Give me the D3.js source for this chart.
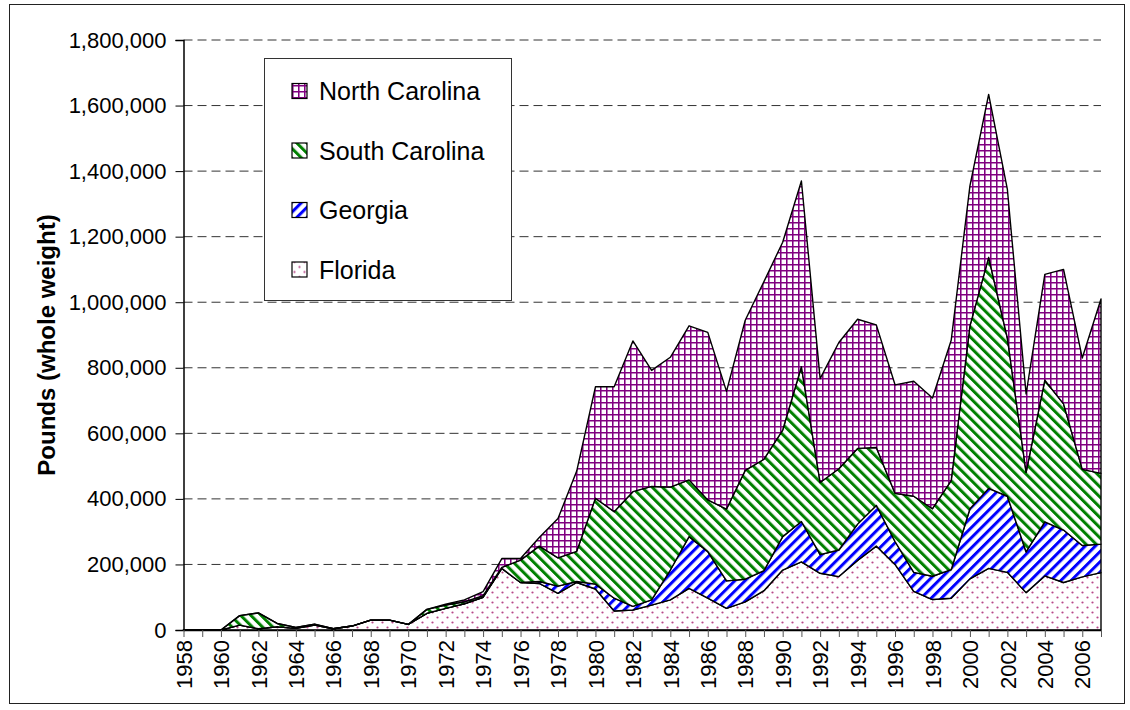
<!DOCTYPE html>
<html>
<head>
<meta charset="utf-8">
<script src="https://cdn.jsdelivr.net/npm/d3@7"></script>
<style>
  body { margin: 0; background: #fff; }
  svg text { font-family: "Liberation Sans", Arial, sans-serif; fill: #000; }
</style>
</head>
<body>
<div id="chart"></div>
<script>
// years on the category axis
var years = [1958, 1959, 1960, 1961, 1962, 1963, 1964, 1965, 1966, 1967,
             1968, 1969, 1970, 1971, 1972, 1973, 1974, 1975, 1976, 1977,
             1978, 1979, 1980, 1981, 1982, 1983, 1984, 1985, 1986, 1987,
             1988, 1989, 1990, 1991, 1992, 1993, 1994, 1995, 1996, 1997,
             1998, 1999, 2000, 2001, 2002, 2003, 2004, 2005, 2006, 2007];

// pounds (whole weight)
var florida = [0, 0, 0, 15000, 4000, 10000, 5000, 15000, 4000, 12000,
               30000, 30000, 17000, 51000, 66000, 80000, 100000, 188000, 145000, 142000,
               112000, 145000, 125000, 58000, 61000, 76000, 92000, 127000, 97000, 66000,
               86000, 120000, 183000, 208000, 173000, 163000, 212000, 256000, 200000, 118000,
               93000, 97000, 156000, 188000, 176000, 114000, 165000, 145000, 162000, 175000];

var georgia = [0, 0, 0, 0, 0, 0, 0, 0, 0, 0,
               0, 0, 0, 0, 0, 0, 0, 0, 0, 6000,
               22000, 3000, 15000, 39000, 11000, 16000, 91000, 158000, 142000, 84000,
               69000, 61000, 102000, 123000, 57000, 81000, 111000, 124000, 70000, 58000,
               71000, 87000, 214000, 244000, 232000, 124000, 165000, 160000, 96000, 87000];

var southCarolina = [0, 0, 0, 29000, 48000, 10000, 3000, 3000, 0, 0,
                     0, 0, 0, 12000, 10000, 6000, 5000, 3000, 68000, 108000,
                     86000, 92000, 262000, 264000, 350000, 346000, 253000, 173000, 158000, 219000,
                     332000, 340000, 325000, 472000, 220000, 248000, 231000, 177000, 147000, 232000,
                     206000, 272000, 558000, 705000, 482000, 243000, 432000, 385000, 232000, 216000];

var northCarolina = [0, 0, 0, 0, 0, 0, 0, 0, 0, 0,
                     0, 0, 0, 0, 3000, 6000, 12000, 27000, 5000, 26000,
                     120000, 245000, 340000, 381000, 460000, 354000, 396000, 470000, 511000, 359000,
                     458000, 542000, 573000, 567000, 317000, 385000, 394000, 374000, 331000, 351000,
                     338000, 428000, 427000, 497000, 454000, 239000, 323000, 410000, 340000, 532000];

var seriesNames = ["Florida", "Georgia", "South Carolina", "North Carolina"];
var yTicks = [0, 200000, 400000, 600000, 800000, 1000000, 1200000, 1400000, 1600000, 1800000];
var xLabels = [1958, 1960, 1962, 1964, 1966, 1968, 1970, 1972, 1974, 1976, 1978, 1980,
               1982, 1984, 1986, 1988, 1990, 1992, 1994, 1996, 1998, 2000, 2002, 2004, 2006];

(function () {
    var width = 1130, height = 710;
    var plotLeft = 183.5, plotRight = 1101, plotTop = 40, plotBottom = 630;

    var svg = d3.select("#chart").append("svg")
        .attr("width", width)
        .attr("height", height);

    svg.append("rect")
        .attr("x", 9.5).attr("y", 4.5)
        .attr("width", 1115).attr("height", 699)
        .attr("fill", "#fff")
        .attr("stroke", "#222")
        .attr("stroke-width", 1);

    // fill patterns, one per state
    var defs = svg.append("defs");

    var pNC = defs.append("pattern").attr("id", "pat-nc")
        .attr("patternUnits", "userSpaceOnUse").attr("width", 6).attr("height", 6);
    pNC.append("rect").attr("width", 6).attr("height", 6).attr("fill", "#fff");
    pNC.append("path").attr("d", "M0,0.75H6M0.75,0V6")
        .attr("stroke", "#800080").attr("stroke-width", 1.6);

    var pSC = defs.append("pattern").attr("id", "pat-sc")
        .attr("patternUnits", "userSpaceOnUse").attr("width", 7.2).attr("height", 7.2)
        .attr("patternTransform", "rotate(-45)");
    pSC.append("rect").attr("width", 7.2).attr("height", 7.2).attr("fill", "#fff");
    pSC.append("rect").attr("width", 3).attr("height", 7.2).attr("fill", "#008000");

    var pGA = defs.append("pattern").attr("id", "pat-ga")
        .attr("patternUnits", "userSpaceOnUse").attr("width", 7.2).attr("height", 7.2)
        .attr("patternTransform", "rotate(45)");
    pGA.append("rect").attr("width", 7.2).attr("height", 7.2).attr("fill", "#fff");
    pGA.append("rect").attr("width", 3).attr("height", 7.2).attr("fill", "#0000ff");

    var pFL = defs.append("pattern").attr("id", "pat-fl")
        .attr("patternUnits", "userSpaceOnUse").attr("width", 10).attr("height", 10);
    pFL.append("rect").attr("width", 10).attr("height", 10).attr("fill", "#fff");
    pFL.append("circle").attr("cx", 2.5).attr("cy", 2.5).attr("r", 1.1).attr("fill", "#b8488a");
    pFL.append("circle").attr("cx", 7.5).attr("cy", 7.5).attr("r", 1.1).attr("fill", "#b8488a");

    var fills = {
        "Florida": "url(#pat-fl)",
        "Georgia": "url(#pat-ga)",
        "South Carolina": "url(#pat-sc)",
        "North Carolina": "url(#pat-nc)"
    };

    var x = d3.scalePoint().domain(years).range([plotLeft, plotRight]);
    var y = d3.scaleLinear().domain([0, 1800000]).range([plotBottom, plotTop]);

    // dashed gridlines
    svg.append("g").selectAll("line")
        .data(yTicks.filter(function (d) { return d > 0; }))
        .enter().append("line")
        .attr("x1", plotLeft).attr("x2", plotRight)
        .attr("y1", function (d) { return y(d); })
        .attr("y2", function (d) { return y(d); })
        .attr("stroke", "#333")
        .attr("stroke-width", 1)
        .attr("stroke-dasharray", "9,5");

    // stacked areas
    var table = years.map(function (yr, i) {
        return {
            year: yr,
            "Florida": florida[i],
            "Georgia": georgia[i],
            "South Carolina": southCarolina[i],
            "North Carolina": northCarolina[i]
        };
    });
    var stacked = d3.stack().keys(seriesNames)(table);

    var area = d3.area()
        .x(function (d) { return x(d.data.year); })
        .y0(function (d) { return y(d[0]); })
        .y1(function (d) { return y(d[1]); });

    svg.append("g").selectAll("path")
        .data(stacked)
        .enter().append("path")
        .attr("d", area)
        .attr("fill", function (d) { return fills[d.key]; })
        .attr("stroke", "#000")
        .attr("stroke-width", 1.4)
        .attr("stroke-linejoin", "round");

    // y axis
    var yAxis = svg.append("g")
        .attr("transform", "translate(" + plotLeft + ",0)")
        .call(d3.axisLeft(y).tickValues(yTicks).tickFormat(d3.format(",")).tickSize(8).tickPadding(9));
    yAxis.select(".domain").attr("stroke", "#000").attr("stroke-width", 1.5);
    yAxis.selectAll(".tick line").attr("stroke", "#000");
    yAxis.selectAll("text").style("font-size", "22px");

    // x axis, ticks every year, labels every other year
    var xAxis = svg.append("g")
        .attr("transform", "translate(0," + plotBottom + ")")
        .call(d3.axisBottom(x).tickSize(7).tickSizeOuter(0)
            .tickFormat(function (d) { return xLabels.indexOf(d) >= 0 ? d : ""; }));
    xAxis.select(".domain").attr("stroke", "#000").attr("stroke-width", 1.5);
    xAxis.selectAll(".tick line").attr("stroke", "#555");
    xAxis.selectAll("text")
        .style("font-size", "22px")
        .style("text-anchor", "end")
        .attr("transform", "rotate(-90)")
        .attr("x", -10)
        .attr("y", 0)
        .attr("dy", "0.35em");

    // y axis title
    svg.append("text")
        .attr("transform", "translate(55,345) rotate(-90)")
        .style("text-anchor", "middle")
        .style("font-size", "24px")
        .style("font-weight", "bold")
        .text("Pounds (whole weight)");

    // legend, top series first
    var legend = svg.append("g");
    legend.append("rect")
        .attr("x", 264.5).attr("y", 58.5)
        .attr("width", 247).attr("height", 242)
        .attr("fill", "#fff")
        .attr("stroke", "#333")
        .attr("stroke-width", 1);

    var legendOrder = seriesNames.slice().reverse();
    var rows = legend.selectAll("g.row")
        .data(legendOrder)
        .enter().append("g")
        .attr("class", "row")
        .attr("transform", function (d, i) { return "translate(292," + (91 + i * 59.5) + ")"; });
    rows.append("rect")
        .attr("x", 0).attr("y", -7.5)
        .attr("width", 15).attr("height", 15)
        .attr("fill", function (d) { return fills[d]; })
        .attr("stroke", "#000")
        .attr("stroke-width", 1.2);
    rows.append("text")
        .attr("x", 27)
        .attr("dy", "0.36em")
        .style("font-size", "25px")
        .text(function (d) { return d; });
})();
</script>
</body>
</html>
